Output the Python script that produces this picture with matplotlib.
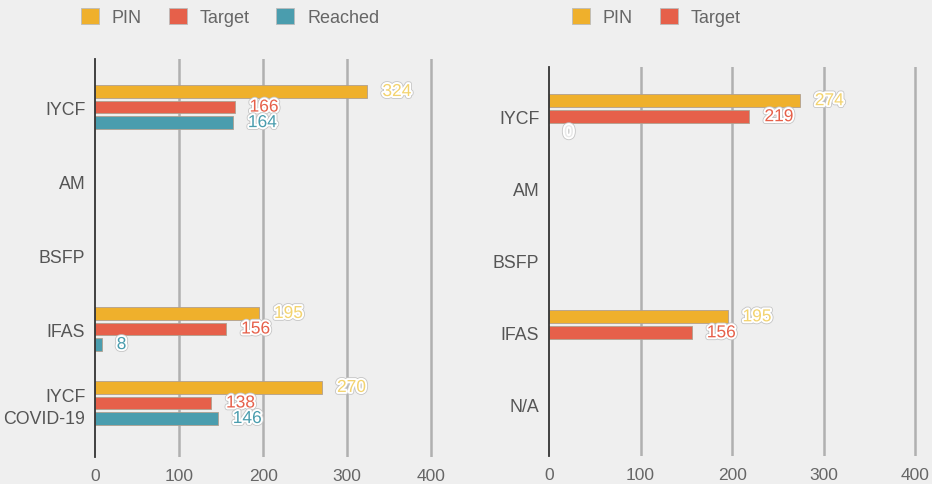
import matplotlib
matplotlib.use("Agg")
import matplotlib.pyplot as plt
import matplotlib.patheffects as pe
from matplotlib.patches import Patch
import numpy as np

plt.rcParams["font.family"] = ["Liberation Sans", "DejaVu Sans"]

# left chart
left_cats = ["IYCF", "AM", "BSFP", "IFAS", "IYCF\nCOVID-19"]
left_pin = [324, np.nan, np.nan, 195, 270]
left_target = [166, np.nan, np.nan, 156, 138]
left_reached = [164, np.nan, np.nan, 8, 146]

# right chart
right_cats = ["IYCF", "AM", "BSFP", "IFAS", "N/A"]
right_pin = [274, np.nan, np.nan, 195, np.nan]
right_target = [219, np.nan, np.nan, 156, np.nan]
right_reached = [0, np.nan, np.nan, np.nan, np.nan]

xticks = [0, 100, 200, 300, 400]

C_PIN = "#efb02c"
C_TGT = "#e6604a"
C_REA = "#4a9dae"
BG = "#efefef"
TXT = "#666666"

W, H = 932, 485
fig = plt.figure(figsize=(W / 100, H / 100), dpi=100, facecolor=BG)


def draw(rect, cats, series, ylim, off, bh):
    ax = fig.add_axes(rect)
    ax.set_facecolor(BG)
    y = np.arange(len(cats))
    for k, (vals, col, lab_col) in enumerate(series):
        pos = y + (k - 1) * off
        vals = np.array(vals, dtype=float)
        ax.barh(pos, vals, height=bh, color=col, edgecolor="#b0a090",
                linewidth=0.6, zorder=3)
        for p, v in zip(pos, vals):
            if np.isnan(v):
                continue
            ax.annotate(f"{v:.0f}", (v, p), xytext=(15, 0),
                        textcoords="offset pixels", ha="left", va="center",
                        fontsize=12.5, color=lab_col, zorder=5,
                        path_effects=[pe.Stroke(linewidth=4, foreground="#c4c4c4"),
                                      pe.Stroke(linewidth=2.8, foreground="white"),
                                      pe.Normal()])
    ax.set_xlim(0, 402)
    ax.set_ylim(*ylim)
    ax.set_yticks(y)
    ax.set_yticklabels(cats, fontsize=12.8, color="#555555", linespacing=1.4)
    ax.set_xticks(xticks)
    ax.set_xticklabels([str(t) for t in xticks], fontsize=12.5, color=TXT)
    ax.tick_params(length=0, pad=8)
    ax.tick_params(axis="y", pad=7)
    for t in xticks[1:]:
        ax.axvline(t, color="#b0b0b0", linewidth=1.8, zorder=1)
    for s in ["top", "right", "bottom"]:
        ax.spines[s].set_visible(False)
    ax.spines["left"].set_color("#333333")
    ax.spines["left"].set_linewidth(1.3)
    ax.spines["left"].set_zorder(4)
    return ax


draw([95 / W, 1 - 458 / H, 338 / W, 398 / H], left_cats,
     [(left_pin, C_PIN, "#f3d36e"), (left_target, C_TGT, C_TGT),
      (left_reached, C_REA, C_REA)],
     (4.73, -0.65), 0.21, 0.17)

draw([549 / W, 1 - 457 / H, 368 / W, 389 / H], right_cats,
     [(right_pin, C_PIN, "#f3d36e"), (right_target, C_TGT, C_TGT),
      (right_reached, C_REA, "#e8e8e8")],
     (4.71, -0.69), 0.222, 0.18)


def legend(items, x):
    handles = [Patch(facecolor=c, edgecolor="#bbbbbb", linewidth=0.6, label=l)
               for l, c in items]
    fig.legend(handles=handles, loc="center", bbox_to_anchor=(x / W, 1 - 18 / H),
               ncol=len(items), frameon=False, fontsize=13, labelcolor=TXT,
               handlelength=1.0, handleheight=1.0, handletextpad=0.7,
               columnspacing=1.5)


legend([("PIN", C_PIN), ("Target", C_TGT), ("Reached", C_REA)], 230)
legend([("PIN", C_PIN), ("Target", C_TGT)], 656)

fig.savefig("out.png", dpi=100, facecolor=BG)
